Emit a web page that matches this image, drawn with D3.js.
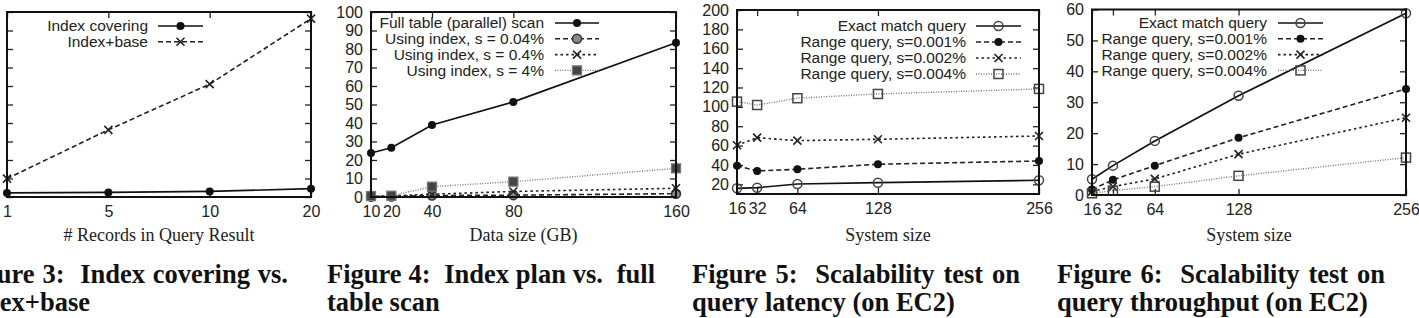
<!DOCTYPE html>
<html>
<head>
<meta charset="utf-8">
<script src="https://cdn.jsdelivr.net/npm/d3@7"></script>
<style>
  body { margin: 0; background: #fff; }
  svg { display: block; }
  .tick text { font-family: "Liberation Sans", Arial, sans-serif; font-size: 16px; fill: #222; }
  .legend text { font-family: "Liberation Sans", Arial, sans-serif; font-size: 15.5px; fill: #222; }
  .axis-title { font-family: "Liberation Serif", "Times New Roman", serif; font-size: 18px; fill: #222; }
  .caption { font-family: "Liberation Serif", "Times New Roman", serif; font-size: 26.5px; font-weight: bold; fill: #111; white-space: pre; }
</style>
</head>
<body>
<svg id="chart" width="1419" height="318"></svg>
<script>
// ---- data ----
const fig3Records = ["1", "5", "10", "20"];
const fig3IndexCovering = [0.22, 0.25, 0.3, 0.45];
const fig3IndexBase = [0.99, 3.63, 6.1, 9.64];
const fig3YTicks = [0, 1, 2, 3, 4, 5, 6, 7, 8, 9, 10];

const fig4Sizes = [10, 20, 40, 80, 160];
const fig4FullScan = [23.8, 26.6, 38.9, 51.4, 83.4];
const fig4Idx004 = [0.2, 0.3, 0.8, 1.0, 1.8];
const fig4Idx04 = [0.3, 0.6, 1.5, 3.0, 4.7];
const fig4Idx4 = [0.5, 0.7, 5.6, 8.3, 15.5];
const fig4YTicks = [0, 10, 20, 30, 40, 50, 60, 70, 80, 90, 100];

const sysSizes = [16, 32, 64, 128, 256];
const fig5Exact = [15.9, 16.5, 20.3, 21.7, 24.2];
const fig5Range001 = [39.2, 33.8, 35.5, 40.7, 44.1];
const fig5Range002 = [60.3, 68.2, 65.1, 66.5, 69.9];
const fig5Range004 = [105.4, 101.9, 108.9, 113.3, 118.5];
const fig5YTicks = [20, 40, 60, 80, 100, 120, 140, 160, 180, 200];

const fig6Exact = [5.1, 9.5, 17.5, 32.1, 58.8];
const fig6Range001 = [1.8, 4.9, 9.5, 18.5, 34.3];
const fig6Range002 = [1.1, 2.7, 5.2, 13.2, 25.0];
const fig6Range004 = [0.55, 1.4, 2.7, 6.2, 12.1];
const fig6YTicks = [0, 10, 20, 30, 40, 50, 60];

const captions = [
  ["Figure 3:  Index covering vs.", "Index+base"],
  ["Figure 4:  Index plan vs.  full", "table scan"],
  ["Figure 5:  Scalability test on", "query latency (on EC2)"],
  ["Figure 6:  Scalability test on", "query throughput (on EC2)"]
];

const svg = d3.select("#chart");

// line styles
const SOLID = { dash: null, color: "#111", width: 1.7 };
const DASH = { dash: "5,3", color: "#222", width: 1.6 };
const SHORT = { dash: "2.5,3", color: "#222", width: 1.6 };
const FINE = { dash: "1,1.5", color: "#777", width: 1.4 };

const drawMarker = (g, type, x, y) => {
  if (type === "dot") {
    g.append("circle").attr("cx", x).attr("cy", y).attr("r", 4).attr("fill", "#111");
  } else if (type === "circle") {
    g.append("circle").attr("cx", x).attr("cy", y).attr("r", 4.5)
      .attr("fill", "none").attr("stroke", "#444").attr("stroke-width", 1.5);
  } else if (type === "circleGray") {
    g.append("circle").attr("cx", x).attr("cy", y).attr("r", 4.5)
      .attr("fill", "#888").attr("stroke", "#333").attr("stroke-width", 1.5);
  } else if (type === "x") {
    const r = 4;
    g.append("path").attr("d", `M${x - r},${y - r}L${x + r},${y + r}M${x - r},${y + r}L${x + r},${y - r}`)
      .attr("stroke", "#222").attr("stroke-width", 1.6);
  } else if (type === "square") {
    g.append("rect").attr("x", x - 4.5).attr("y", y - 4.5).attr("width", 9).attr("height", 9)
      .attr("fill", "none").attr("stroke", "#444").attr("stroke-width", 1.5);
  } else if (type === "squareFill") {
    g.append("rect").attr("x", x - 4.5).attr("y", y - 4.5).attr("width", 9).attr("height", 9)
      .attr("fill", "#444").attr("stroke", "#777").attr("stroke-width", 1.3);
  }
}

const drawPanel = (p) => {
  const g = svg.append("g");
  const f = p.frame;

  // mirrored inward ticks on all four sides
  g.append("g").attr("transform", `translate(${f.x0},0)`)
    .call(d3.axisLeft(p.y).tickValues(p.yTicks).tickSizeInner(-6).tickSizeOuter(0).tickPadding(8)
      .tickFormat(p.showYLabels ? d3.format("d") : ""));
  g.append("g").attr("transform", `translate(${f.x1},0)`)
    .call(d3.axisRight(p.y).tickValues(p.yTicks).tickSizeInner(-6).tickSizeOuter(0).tickFormat(""));
  g.append("g").attr("transform", `translate(0,${f.y1})`)
    .call(d3.axisBottom(p.x).tickValues(p.xTicks).tickSizeInner(-6).tickSizeOuter(0).tickPadding(9));
  g.append("g").attr("transform", `translate(0,${f.y0})`)
    .call(d3.axisTop(p.x).tickValues(p.xTicks).tickSizeInner(-6).tickSizeOuter(0).tickFormat(""));
  g.selectAll(".domain").remove();
  g.selectAll(".tick line").attr("stroke", "#222").attr("stroke-width", 1.3);

  // data lines + markers
  p.series.forEach(s => {
    const line = d3.line().x((d, i) => p.x(p.xValues[i])).y(d => p.y(d));
    g.append("path").datum(s.values).attr("d", line)
      .attr("fill", "none").attr("stroke", s.style.color).attr("stroke-width", s.style.width)
      .attr("stroke-dasharray", s.style.dash);
    s.values.forEach((v, i) => drawMarker(g, s.marker, p.x(p.xValues[i]), p.y(v)));
  });

  // frame
  g.append("rect").attr("x", f.x0).attr("y", f.y0)
    .attr("width", f.x1 - f.x0).attr("height", f.y1 - f.y0)
    .attr("fill", "none").attr("stroke", "#111").attr("stroke-width", 2);

  // legend
  const lg = g.append("g").attr("class", "legend");
  p.series.forEach((s, i) => {
    const ly = p.legend.y + i * p.legend.step;
    lg.append("text").attr("x", p.legend.textX).attr("y", ly).attr("dy", "0.35em")
      .attr("text-anchor", "end").text(s.name);
    lg.append("line").attr("x1", p.legend.x0).attr("x2", p.legend.x1).attr("y1", ly).attr("y2", ly)
      .attr("stroke", s.style.color).attr("stroke-width", s.style.width)
      .attr("stroke-dasharray", s.style.dash);
    drawMarker(lg, s.marker, (p.legend.x0 + p.legend.x1) / 2, ly);
  });

  // axis title
  g.append("text").attr("class", "axis-title")
    .attr("x", (f.x0 + f.x1) / 2).attr("y", 241).attr("text-anchor", "middle").text(p.xTitle);

  // caption, first line justified to the column width
  const cap = g.append("g");
  const l1 = cap.append("text").attr("class", "caption").attr("x", p.capX).attr("y", 283).text(p.caption[0]);
  const natural = l1.node().getComputedTextLength();
  const spaces = p.caption[0].split(" ").length - 1;
  l1.attr("word-spacing", Math.max(0, (328 - natural) / spaces));
  cap.append("text").attr("class", "caption").attr("x", p.capX).attr("y", 311).text(p.caption[1]);
}

// Figure 3
drawPanel({
  frame: { x0: 7, x1: 311, y0: 12, y1: 197 },
  x: d3.scalePoint().domain(fig3Records).range([7, 311]),
  y: d3.scaleLinear().domain([0, 10]).range([197, 12]),
  xValues: fig3Records, xTicks: fig3Records, yTicks: fig3YTicks, showYLabels: false,
  series: [
    { name: "Index covering", values: fig3IndexCovering, style: SOLID, marker: "dot" },
    { name: "Index+base", values: fig3IndexBase, style: DASH, marker: "x" }
  ],
  legend: { textX: 148, x0: 158, x1: 203, y: 26, step: 15.7 },
  xTitle: "# Records in Query Result",
  caption: captions[0], capX: -40
});

// Figure 4
drawPanel({
  frame: { x0: 371, x1: 676, y0: 12, y1: 197 },
  x: d3.scaleLinear().domain([10, 160]).range([371, 676]),
  y: d3.scaleLinear().domain([0, 100]).range([197, 12]),
  xValues: fig4Sizes, xTicks: fig4Sizes, yTicks: fig4YTicks, showYLabels: true,
  series: [
    { name: "Full table (parallel) scan", values: fig4FullScan, style: SOLID, marker: "dot" },
    { name: "Using index, s = 0.04%", values: fig4Idx004, style: DASH, marker: "circleGray" },
    { name: "Using index, s = 0.4%", values: fig4Idx04, style: SHORT, marker: "x" },
    { name: "Using index, s = 4%", values: fig4Idx4, style: FINE, marker: "squareFill" }
  ],
  legend: { textX: 544, x0: 555, x1: 599, y: 23, step: 15.8 },
  xTitle: "Data size (GB)",
  caption: captions[1], capX: 327
});

// Figure 5
drawPanel({
  frame: { x0: 737, x1: 1039, y0: 10, y1: 194 },
  x: d3.scaleLinear().domain([16, 256]).range([737, 1039]),
  y: d3.scaleLinear().domain([10, 200]).range([194, 10]),
  xValues: sysSizes, xTicks: sysSizes, yTicks: fig5YTicks, showYLabels: true,
  series: [
    { name: "Exact match query", values: fig5Exact, style: SOLID, marker: "circle" },
    { name: "Range query, s=0.001%", values: fig5Range001, style: DASH, marker: "dot" },
    { name: "Range query, s=0.002%", values: fig5Range002, style: SHORT, marker: "x" },
    { name: "Range query, s=0.004%", values: fig5Range004, style: FINE, marker: "square" }
  ],
  legend: { textX: 966, x0: 976, x1: 1021, y: 26, step: 16 },
  xTitle: "System size",
  caption: captions[2], capX: 692
});

// Figure 6
drawPanel({
  frame: { x0: 1092, x1: 1406, y0: 9.5, y1: 195 },
  x: d3.scaleLinear().domain([16, 256]).range([1092, 1406]),
  y: d3.scaleLinear().domain([0, 60]).range([195, 9.5]),
  xValues: sysSizes, xTicks: sysSizes, yTicks: fig6YTicks, showYLabels: true,
  series: [
    { name: "Exact match query", values: fig6Exact, style: SOLID, marker: "circle" },
    { name: "Range query, s=0.001%", values: fig6Range001, style: DASH, marker: "dot" },
    { name: "Range query, s=0.002%", values: fig6Range002, style: SHORT, marker: "x" },
    { name: "Range query, s=0.004%", values: fig6Range004, style: FINE, marker: "square" }
  ],
  legend: { textX: 1267, x0: 1278, x1: 1323, y: 23, step: 15.8 },
  xTitle: "System size",
  caption: captions[3], capX: 1057
});
</script>
</body>
</html>
